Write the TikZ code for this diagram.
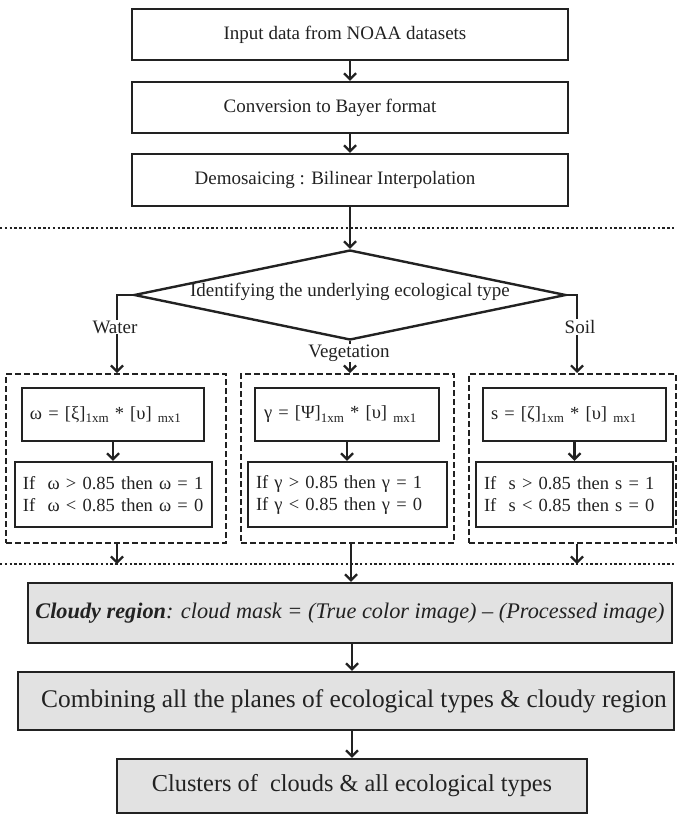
\documentclass[tikz,border=0pt]{standalone}
\usepackage{fontspec}
\setmainfont{Liberation Serif}
\usetikzlibrary{arrows.meta,shapes.geometric}
\definecolor{ink}{HTML}{222222}
\definecolor{panel}{HTML}{E2E2E2}
% small lowered index such as 1xm or mx1
\newcommand\lowsub[1]{\raisebox{-0.45ex}{\fontsize{13}{13}\selectfont #1}}
\begin{document}
\begin{tikzpicture}[x=1pt,y=-1pt,
  font=\fontsize{19}{22}\selectfont,
  stepbox/.style={draw=ink, line width=2.4pt, inner sep=0pt, text=ink},
  greybox/.style={stepbox, fill=panel},
  formbox/.style={stepbox, inner xsep=8pt, align=left, font=\fontsize{18.5}{22}\selectfont},
  branchbox/.style={draw=ink, line width=2pt, dash pattern=on 6pt off 3pt, inner sep=0pt},
  flow/.style={draw=ink, line width=2.2pt, -{Straight Barb[length=6pt,width=12pt]}},
  divider/.style={draw=ink, line width=2.6pt, dash pattern=on 2.4pt off 2.4pt},
  tag/.style={fill=white, inner sep=1pt, text=ink}
]
\useasboundingbox (0,0) rectangle (677,817);

% --- preprocessing chain ---
\node[stepbox, minimum width=436, minimum height=51] (input) at (350,34.5)
  {Input data from NOAA datasets\hspace*{10pt}};
\node[stepbox, minimum width=436, minimum height=51] (bayer) at (350,107.5)
  {Conversion to Bayer format\hspace*{40pt}};
\node[stepbox, minimum width=436, minimum height=52] (demosaic) at (350,180)
  {Demosaicing : Bilinear Interpolation\hspace*{30pt}};

\draw[flow] (input) -- (bayer);
\draw[flow] (bayer) -- (demosaic);

\draw[divider] (0,228) -- (677,228);

% --- decision ---
\node[diamond, draw=ink, line width=2.4pt, inner sep=0pt,
      minimum width=432, minimum height=90] (decide) at (350,295) {};
\node[text=ink] (decidetext) at (350,292) {Identifying the underlying ecological type};
\draw[flow] (demosaic) -- (decide.north);

% --- three branches ---
\node[branchbox, minimum width=220, minimum height=169] (water) at (116,458.5) {};
\node[branchbox, minimum width=213, minimum height=169] (veg) at (347.5,458.5) {};
\node[branchbox, minimum width=207, minimum height=169] (soil) at (572.5,458.5) {};

\coordinate (wdrop) at (117,564);
\coordinate (sdrop) at (577,564);

\draw[flow] (decide.west) -| (water.north -| wdrop);
\draw[flow] (decide.south) -- (decide.south |- veg.north);
\draw[flow] (decide.east) -| (soil.north -| sdrop);
\node[tag] (waterlbl) at (115,327) {Water};
\node[tag] (veglbl) at (349,353) {Vegetation};
\node[tag] (soillbl) at (580,327) {Soil};

% water
\node[formbox, text width=166, minimum height=53] (wcalc) at (113,414.5)
  {ω = [ξ]\lowsub{1xm} * [υ] \lowsub{mx1}};
\node[formbox, text width=181, minimum height=65] (wrule) at (113.5,494.5)
  {\mbox{If~ ω > 0.85 then ω = 1}\\\mbox{If~ ω < 0.85 then ω = 0}};
\draw[flow] (wcalc) -- (wcalc.south |- wrule.north);

% vegetation
\node[formbox, text width=166, inner xsep=9pt, minimum height=53] (vcalc) at (347,414.5)
  {γ = [Ψ]\lowsub{1xm} * [υ] \lowsub{mx1}};
\node[formbox, text width=183, minimum height=65] (vrule) at (347.5,494.5)
  {\mbox{If γ > 0.85 then γ = 1}\\\mbox{If γ < 0.85 then γ = 0}};
\draw[flow] (vcalc) -- (vcalc.south |- vrule.north);

% soil
\node[formbox, text width=167, minimum height=53] (scalc) at (574.5,414.5)
  {s = [ζ]\lowsub{1xm} * [υ] \lowsub{mx1}};
\node[formbox, text width=181, minimum height=65] (srule) at (574.5,494.5)
  {\mbox{If~ s > 0.85 then s = 1}\\\mbox{If~ s < 0.85 then s = 0}};
\draw[flow] (scalc) -- (scalc.south |- srule.north);

\draw[divider] (0,564) -- (677,564);
\draw[flow] (water.south -| wdrop) -- (wdrop);
\draw[flow] (soil.south -| sdrop) -- (sdrop);

% --- merging stages ---
\node[greybox, minimum width=644, minimum height=60] (cloud) at (350,613)
  {\fontsize{22.3}{26}\selectfont\itshape\textbf{Cloudy region}: cloud mask = (True color image) – (Processed image)};
\node[greybox, minimum width=656, minimum height=58] (combine) at (346,701)
  {\fontsize{25.4}{28}\selectfont\hspace*{16pt}Combining all the planes of ecological types \& cloudy region};
\node[greybox, minimum width=470, minimum height=54] (clusters) at (352,786)
  {\fontsize{24.3}{28}\selectfont Clusters of~ clouds \& all ecological types};

\draw[flow] (veg.south -| 351,0) -- (cloud.north -| 351,0);
\draw[flow] (cloud.south -| 352,0) -- (combine.north -| 352,0);
\draw[flow] (combine.south -| 352,0) -- (clusters.north -| 352,0);
\end{tikzpicture}
\end{document}
